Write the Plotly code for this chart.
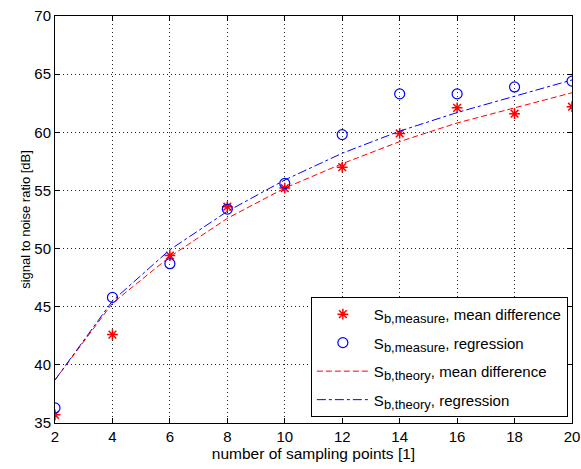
import plotly.graph_objects as go

x_points = [2, 4, 6, 8, 10, 12, 14, 16, 18, 20]
measure_mean_diff = [35.7, 42.6, 49.4, 53.6, 55.2, 57.0, 59.9, 62.1, 61.6, 62.2]
measure_regression = [36.3, 45.8, 48.7, 53.4, 55.6, 59.8, 63.3, 63.3, 63.9, 64.4]
theory_mean_diff = [38.7, 45.3, 49.3, 52.6, 55.2, 57.3, 59.2, 60.8, 62.1, 63.4]
theory_regression = [38.7, 45.5, 49.9, 53.2, 55.9, 58.2, 60.1, 61.7, 63.1, 64.5]

x_ticks = [2, 4, 6, 8, 10, 12, 14, 16, 18, 20]
y_ticks = [35, 40, 45, 50, 55, 60, 65, 70]

font = "Liberation Sans, Arial, sans-serif"


def label(sub, rest):
    return ("S<sub><span style=\"font-size:13px\">" + sub + "</span></sub>, " + rest)


fig = go.Figure()
fig.add_trace(go.Scatter(
    x=x_points, y=measure_mean_diff, mode="markers", legendgroup="a",
    name=label("b,measure", "mean difference"),
    marker=dict(symbol="asterisk-open", size=9, line=dict(color="red", width=1.5), color="red")))
fig.add_trace(go.Scatter(
    x=x_points, y=measure_regression, mode="markers", legendgroup="b",
    name=label("b,measure", "regression"),
    marker=dict(symbol="circle-open", size=10, line=dict(color="blue", width=1.2), color="blue")))
fig.add_trace(go.Scatter(
    x=x_points, y=theory_mean_diff, mode="lines", legendgroup="c",
    name=label("b,theory", "mean difference"),
    line=dict(color="red", width=1, dash="6px,3px")))
fig.add_trace(go.Scatter(
    x=x_points, y=theory_regression, mode="lines", legendgroup="d",
    name=label("b,theory", "regression"),
    line=dict(color="blue", width=1, dash="dashdot")))

axis_common = dict(
    showgrid=True, gridcolor="#222222", griddash="1px,3px", gridwidth=1,
    showline=True, linecolor="black", linewidth=1, mirror="ticks",
    ticks="inside", ticklen=5, tickcolor="black",
    tickfont=dict(family=font, size=15, color="black"),
    zeroline=False, automargin=False,
)

fig.update_layout(
    width=581, height=469,
    margin=dict(l=55, r=9, t=16, b=46),
    paper_bgcolor="white", plot_bgcolor="white",
    font=dict(family=font, size=13, color="black"),
    xaxis=dict(range=[2, 20], tickvals=x_ticks,
               title=dict(text="number of sampling points [1]", font=dict(size=15.5), standoff=2),
               **axis_common),
    yaxis=dict(range=[35, 70], tickvals=y_ticks,
               title=dict(text="signal to noise ratio [dB]", font=dict(size=13), standoff=0),
               **axis_common),
    legend=dict(x=0.992, y=0.015, xanchor="right", yanchor="bottom",
                bgcolor="white", bordercolor="black", borderwidth=1,
                font=dict(family=font, size=15, color="black"),
                tracegroupgap=6, itemwidth=52),
    showlegend=True,
)

fig.write_html(
    "out.html",
    config={"displayModeBar": False},
    post_script="document.body.style.margin='0';document.body.style.overflow='hidden';",
)
